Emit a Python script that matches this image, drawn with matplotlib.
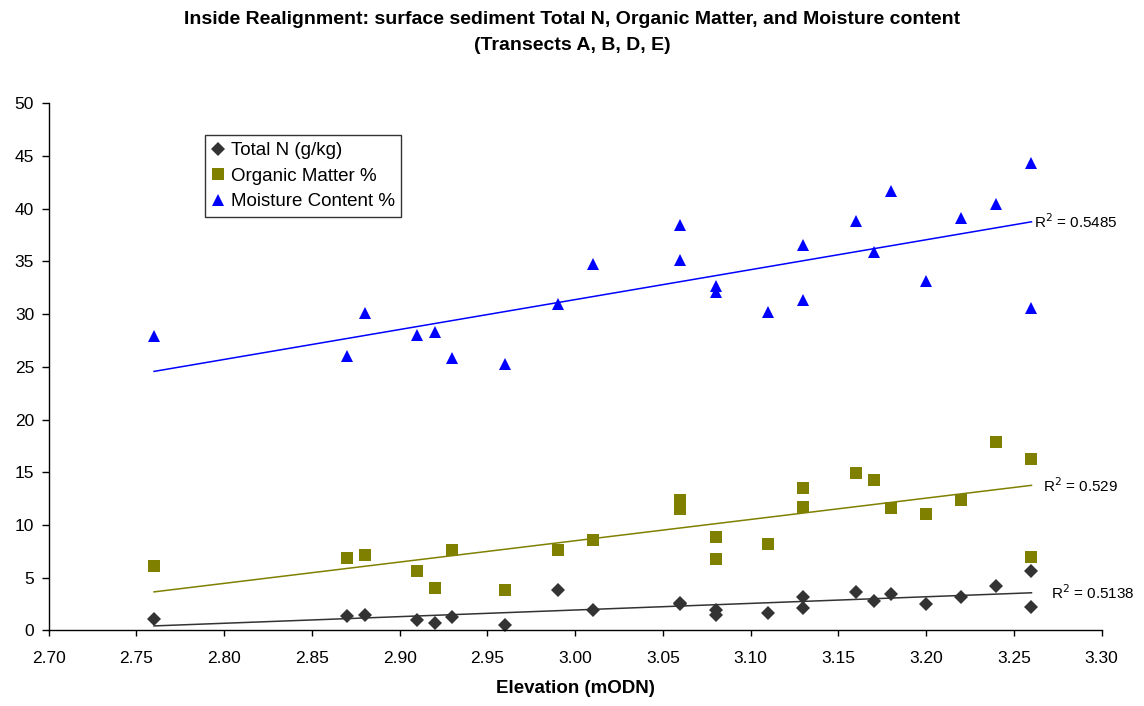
"""Inside Realignment: surface sediment Total N, Organic Matter and Moisture vs elevation."""

import matplotlib

matplotlib.use("Agg")
import matplotlib.pyplot as plt
import numpy as np
from matplotlib.ticker import FormatStrFormatter, MultipleLocator

plt.rcParams["font.family"] = ["Liberation Sans", "DejaVu Sans"]

elevation = [2.76, 2.87, 2.88, 2.91, 2.92, 2.93, 2.96, 2.99, 3.01, 3.06, 3.06, 3.08,
             3.08, 3.11, 3.13, 3.13, 3.16, 3.17, 3.18, 3.20, 3.22, 3.24, 3.26, 3.26]
total_n = [1.1, 1.4, 1.5, 1.0, 0.7, 1.3, 0.5, 3.8, 1.9, 2.5, 2.6, 1.9,
           1.5, 1.6, 3.2, 2.1, 3.6, 2.8, 3.4, 2.5, 3.2, 4.2, 5.6, 2.2]
organic = [6.1, 6.9, 7.1, 5.6, 4.0, 7.6, 3.8, 7.6, 8.6, 12.4, 11.5, 8.9,
           6.8, 8.2, 13.5, 11.7, 14.9, 14.3, 11.6, 11.0, 12.4, 17.9, 16.3, 7.0]
moisture = [27.9, 26.0, 30.1, 28.0, 28.3, 25.8, 25.3, 31.0, 34.8, 38.5, 35.1, 32.7,
            32.1, 30.2, 36.6, 31.3, 38.8, 35.9, 41.7, 33.1, 39.1, 40.4, 44.3, 30.6]

series = [
    ("Total N (g/kg)", total_n, "D", "#333333", 7.0, "R$^2$ = 0.5138", 14),
    ("Organic Matter %", organic, "s", "#808000", 8.0, "R$^2$ = 0.529", 8),
    ("Moisture Content %", moisture, "^", "#0000FF", 9.0, "R$^2$ = 0.5485", 2),
]

fig = plt.figure(figsize=(11.44, 7.06), dpi=100)
ax = fig.add_axes([0.0426, 0.1072, 0.9204, 0.7465])

x = np.array(elevation)
x_fit = np.array([x.min(), x.max()])
for label, values, marker, color, size, r2_text, dx in series:
    ax.plot(x, values, linestyle="none", marker=marker, markersize=size,
            color=color, markeredgewidth=0, label=label, clip_on=False)
    slope, intercept = np.polyfit(x, values, 1)
    y_fit = slope * x_fit + intercept
    ax.plot(x_fit, y_fit, color=color, linewidth=1.1)
    ax.annotate(r2_text, (x_fit[-1], y_fit[-1]), xytext=(dx, 0),
                textcoords="offset points", ha="left", va="center", fontsize=11)

ax.set_xlim(2.70, 3.30)
ax.set_ylim(0, 50)
ax.xaxis.set_major_locator(MultipleLocator(0.05))
ax.xaxis.set_major_formatter(FormatStrFormatter("%.2f"))
ax.yaxis.set_major_locator(MultipleLocator(5))
ax.tick_params(direction="out", length=5, width=1, labelsize=12.5, pad=5.5)
ax.tick_params(axis="x", length=4, pad=11)
for side in ("top", "right"):
    ax.spines[side].set_visible(False)
for side in ("left", "bottom"):
    ax.spines[side].set_linewidth(1)

ax.set_xlabel("Elevation (mODN)", fontsize=13.5, fontweight="bold", labelpad=10)
fig.suptitle("Inside Realignment: surface sediment Total N, Organic Matter, and Moisture content\n"
             "(Transects A, B, D, E)", fontsize=14, fontweight="bold", y=0.985,
             linespacing=1.75)

leg = ax.legend(loc="upper left", bbox_to_anchor=(0.148, 0.939), borderaxespad=0,
                frameon=True, fancybox=False, edgecolor="black", fontsize=13.5,
                handlelength=0.7, handletextpad=0.35, borderpad=0.35, labelspacing=0.45,
                markerscale=1.0)
leg.get_frame().set_linewidth(1)

fig.savefig("out.png", dpi=100)
